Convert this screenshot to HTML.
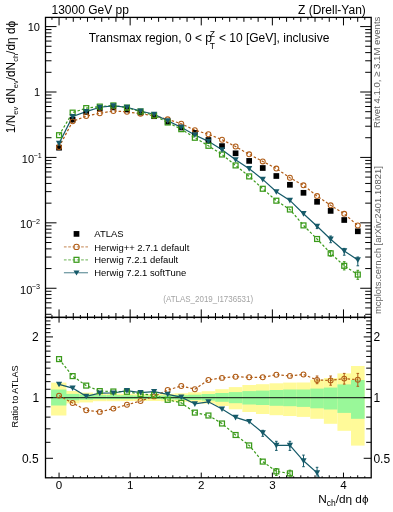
<!DOCTYPE html><html><head><meta charset="utf-8"><style>html,body{margin:0;padding:0;background:#fff;}svg{display:block;will-change:transform}</style></head><body><svg width="393" height="512" viewBox="0 0 393 512">
<rect width="393" height="512" fill="#fff"/>
<rect x="51.10" y="382.60" width="15.30" height="32.90" fill="#fffa99"/>
<rect x="65.84" y="391.00" width="13.58" height="12.40" fill="#fffa99"/>
<rect x="79.42" y="392.60" width="13.58" height="9.80" fill="#fffa99"/>
<rect x="93.00" y="393.60" width="13.58" height="7.60" fill="#fffa99"/>
<rect x="106.58" y="393.60" width="13.58" height="7.60" fill="#fffa99"/>
<rect x="120.16" y="393.80" width="13.58" height="7.30" fill="#fffa99"/>
<rect x="133.74" y="394.10" width="13.58" height="6.90" fill="#fffa99"/>
<rect x="147.32" y="394.10" width="13.58" height="6.90" fill="#fffa99"/>
<rect x="160.90" y="393.80" width="13.58" height="7.50" fill="#fffa99"/>
<rect x="174.48" y="393.30" width="13.58" height="8.40" fill="#fffa99"/>
<rect x="188.06" y="392.30" width="13.58" height="10.20" fill="#fffa99"/>
<rect x="201.64" y="391.20" width="13.58" height="12.40" fill="#fffa99"/>
<rect x="215.22" y="389.20" width="13.58" height="16.80" fill="#fffa99"/>
<rect x="228.80" y="387.10" width="13.58" height="22.20" fill="#fffa99"/>
<rect x="242.38" y="385.00" width="13.58" height="27.00" fill="#fffa99"/>
<rect x="255.96" y="384.20" width="13.58" height="29.80" fill="#fffa99"/>
<rect x="269.54" y="383.30" width="13.58" height="31.90" fill="#fffa99"/>
<rect x="283.12" y="382.60" width="13.58" height="33.40" fill="#fffa99"/>
<rect x="296.70" y="382.50" width="13.58" height="34.40" fill="#fffa99"/>
<rect x="310.28" y="379.60" width="13.58" height="39.20" fill="#fffa99"/>
<rect x="323.86" y="378.00" width="13.58" height="45.80" fill="#fffa99"/>
<rect x="337.44" y="373.40" width="13.58" height="57.40" fill="#fffa99"/>
<rect x="351.02" y="366.00" width="13.58" height="79.60" fill="#fffa99"/>
<rect x="51.10" y="389.50" width="15.30" height="16.00" fill="#99f899"/>
<rect x="65.84" y="393.90" width="13.58" height="6.40" fill="#99f899"/>
<rect x="79.42" y="394.60" width="13.58" height="5.10" fill="#99f899"/>
<rect x="93.00" y="395.10" width="13.58" height="4.10" fill="#99f899"/>
<rect x="106.58" y="395.10" width="13.58" height="4.10" fill="#99f899"/>
<rect x="120.16" y="395.30" width="13.58" height="3.80" fill="#99f899"/>
<rect x="133.74" y="395.60" width="13.58" height="3.40" fill="#99f899"/>
<rect x="147.32" y="395.60" width="13.58" height="3.40" fill="#99f899"/>
<rect x="160.90" y="395.50" width="13.58" height="3.80" fill="#99f899"/>
<rect x="174.48" y="395.20" width="13.58" height="4.40" fill="#99f899"/>
<rect x="188.06" y="394.70" width="13.58" height="5.30" fill="#99f899"/>
<rect x="201.64" y="394.00" width="13.58" height="6.60" fill="#99f899"/>
<rect x="215.22" y="393.00" width="13.58" height="8.80" fill="#99f899"/>
<rect x="228.80" y="392.10" width="13.58" height="11.10" fill="#99f899"/>
<rect x="242.38" y="391.10" width="13.58" height="13.40" fill="#99f899"/>
<rect x="255.96" y="390.60" width="13.58" height="14.40" fill="#99f899"/>
<rect x="269.54" y="390.00" width="13.58" height="15.80" fill="#99f899"/>
<rect x="283.12" y="389.50" width="13.58" height="16.70" fill="#99f899"/>
<rect x="296.70" y="389.50" width="13.58" height="17.40" fill="#99f899"/>
<rect x="310.28" y="388.60" width="13.58" height="19.70" fill="#99f899"/>
<rect x="323.86" y="387.60" width="13.58" height="21.90" fill="#99f899"/>
<rect x="337.44" y="384.40" width="13.58" height="28.50" fill="#99f899"/>
<rect x="351.02" y="380.00" width="13.58" height="38.80" fill="#99f899"/>
<line x1="45.5" y1="397.6" x2="371.2" y2="397.6" stroke="#2a3a2a" stroke-width="1.2"/>
<defs><clipPath id="cm"><rect x="45.5" y="17.4" width="325.7" height="300.0"/></clipPath><clipPath id="cr"><rect x="45.5" y="317.4" width="325.7" height="160.40000000000003"/></clipPath></defs>
<polyline points="59.05,395.60 72.63,403.00 86.21,410.20 99.79,411.90 113.37,408.60 126.95,404.80 140.53,401.00 154.11,396.40 167.69,390.00 181.27,386.00 194.85,389.20 208.43,380.00 222.01,377.90 235.59,376.70 249.17,377.30 262.75,377.30 276.33,374.70 289.91,375.90 303.49,374.50 317.07,380.00 330.65,380.40 344.23,378.60 357.81,379.70" fill="none" stroke="#b05c16" stroke-width="1.2" stroke-dasharray="2.5,2" clip-path="url(#cr)"/>
<polyline points="59.05,359.10 72.63,376.10 86.21,385.60 99.79,391.10 113.37,391.50 126.95,391.80 140.53,394.10 154.11,395.10 167.69,399.80 181.27,402.80 194.85,412.60 208.43,415.50 222.01,423.50 235.59,435.00 249.17,445.40 262.75,461.60 276.33,471.40 289.91,473.40 303.49,503.01" fill="none" stroke="#3a9a1a" stroke-width="1.2" stroke-dasharray="2.5,2" clip-path="url(#cr)"/>
<polyline points="59.05,384.30 72.63,388.10 86.21,396.30 99.79,393.20 113.37,393.00 126.95,390.70 140.53,392.60 154.11,391.60 167.69,394.30 181.27,397.10 194.85,403.90 208.43,401.80 222.01,409.00 235.59,417.40 249.17,421.60 262.75,432.80 276.33,445.40 289.91,445.40 303.49,460.80 317.07,472.80 330.65,503.01" fill="none" stroke="#165a69" stroke-width="1.2" clip-path="url(#cr)"/>
<path d="M317.07,376.00V383.70M315.77,376.00H318.37M315.77,383.70H318.37" stroke="#b05c16" stroke-width="1" fill="none" clip-path="url(#cr)"/>
<path d="M330.65,376.00V385.20M329.35,376.00H331.95M329.35,385.20H331.95" stroke="#b05c16" stroke-width="1" fill="none" clip-path="url(#cr)"/>
<path d="M344.23,373.40V384.10M342.93,373.40H345.53M342.93,384.10H345.53" stroke="#b05c16" stroke-width="1" fill="none" clip-path="url(#cr)"/>
<path d="M357.81,373.40V386.30M356.51,373.40H359.11M356.51,386.30H359.11" stroke="#b05c16" stroke-width="1" fill="none" clip-path="url(#cr)"/>
<path d="M262.75,430.30V436.30M261.45,430.30H264.05M261.45,436.30H264.05" stroke="#165a69" stroke-width="1" fill="none" clip-path="url(#cr)"/>
<path d="M276.33,441.30V450.40M275.03,441.30H277.63M275.03,450.40H277.63" stroke="#165a69" stroke-width="1" fill="none" clip-path="url(#cr)"/>
<path d="M289.91,441.30V450.40M288.61,441.30H291.21M288.61,450.40H291.21" stroke="#165a69" stroke-width="1" fill="none" clip-path="url(#cr)"/>
<path d="M303.49,455.10V466.70M302.19,455.10H304.79M302.19,466.70H304.79" stroke="#165a69" stroke-width="1" fill="none" clip-path="url(#cr)"/>
<path d="M317.07,467.30V480.00M315.77,467.30H318.37M315.77,480.00H318.37" stroke="#165a69" stroke-width="1" fill="none" clip-path="url(#cr)"/>
<path d="M276.33,468.50V475.50M275.03,468.50H277.63M275.03,475.50H277.63" stroke="#3a9a1a" stroke-width="1" fill="none" clip-path="url(#cr)"/>
<path d="M289.91,470.20V480.00M288.61,470.20H291.21M288.61,480.00H291.21" stroke="#3a9a1a" stroke-width="1" fill="none" clip-path="url(#cr)"/>
<circle cx="59.05" cy="395.60" r="2.45" fill="none" stroke="#b05c16" stroke-width="1.05" clip-path="url(#cr)"/>
<circle cx="72.63" cy="403.00" r="2.45" fill="none" stroke="#b05c16" stroke-width="1.05" clip-path="url(#cr)"/>
<circle cx="86.21" cy="410.20" r="2.45" fill="none" stroke="#b05c16" stroke-width="1.05" clip-path="url(#cr)"/>
<circle cx="99.79" cy="411.90" r="2.45" fill="none" stroke="#b05c16" stroke-width="1.05" clip-path="url(#cr)"/>
<circle cx="113.37" cy="408.60" r="2.45" fill="none" stroke="#b05c16" stroke-width="1.05" clip-path="url(#cr)"/>
<circle cx="126.95" cy="404.80" r="2.45" fill="none" stroke="#b05c16" stroke-width="1.05" clip-path="url(#cr)"/>
<circle cx="140.53" cy="401.00" r="2.45" fill="none" stroke="#b05c16" stroke-width="1.05" clip-path="url(#cr)"/>
<circle cx="154.11" cy="396.40" r="2.45" fill="none" stroke="#b05c16" stroke-width="1.05" clip-path="url(#cr)"/>
<circle cx="167.69" cy="390.00" r="2.45" fill="none" stroke="#b05c16" stroke-width="1.05" clip-path="url(#cr)"/>
<circle cx="181.27" cy="386.00" r="2.45" fill="none" stroke="#b05c16" stroke-width="1.05" clip-path="url(#cr)"/>
<circle cx="194.85" cy="389.20" r="2.45" fill="none" stroke="#b05c16" stroke-width="1.05" clip-path="url(#cr)"/>
<circle cx="208.43" cy="380.00" r="2.45" fill="none" stroke="#b05c16" stroke-width="1.05" clip-path="url(#cr)"/>
<circle cx="222.01" cy="377.90" r="2.45" fill="none" stroke="#b05c16" stroke-width="1.05" clip-path="url(#cr)"/>
<circle cx="235.59" cy="376.70" r="2.45" fill="none" stroke="#b05c16" stroke-width="1.05" clip-path="url(#cr)"/>
<circle cx="249.17" cy="377.30" r="2.45" fill="none" stroke="#b05c16" stroke-width="1.05" clip-path="url(#cr)"/>
<circle cx="262.75" cy="377.30" r="2.45" fill="none" stroke="#b05c16" stroke-width="1.05" clip-path="url(#cr)"/>
<circle cx="276.33" cy="374.70" r="2.45" fill="none" stroke="#b05c16" stroke-width="1.05" clip-path="url(#cr)"/>
<circle cx="289.91" cy="375.90" r="2.45" fill="none" stroke="#b05c16" stroke-width="1.05" clip-path="url(#cr)"/>
<circle cx="303.49" cy="374.50" r="2.45" fill="none" stroke="#b05c16" stroke-width="1.05" clip-path="url(#cr)"/>
<circle cx="317.07" cy="380.00" r="2.45" fill="none" stroke="#b05c16" stroke-width="1.05" clip-path="url(#cr)"/>
<circle cx="330.65" cy="380.40" r="2.45" fill="none" stroke="#b05c16" stroke-width="1.05" clip-path="url(#cr)"/>
<circle cx="344.23" cy="378.60" r="2.45" fill="none" stroke="#b05c16" stroke-width="1.05" clip-path="url(#cr)"/>
<circle cx="357.81" cy="379.70" r="2.45" fill="none" stroke="#b05c16" stroke-width="1.05" clip-path="url(#cr)"/>
<rect x="56.60" y="356.65" width="4.9" height="4.9" fill="none" stroke="#3a9a1a" stroke-width="1.25" clip-path="url(#cr)"/>
<rect x="70.18" y="373.65" width="4.9" height="4.9" fill="none" stroke="#3a9a1a" stroke-width="1.25" clip-path="url(#cr)"/>
<rect x="83.76" y="383.15" width="4.9" height="4.9" fill="none" stroke="#3a9a1a" stroke-width="1.25" clip-path="url(#cr)"/>
<rect x="97.34" y="388.65" width="4.9" height="4.9" fill="none" stroke="#3a9a1a" stroke-width="1.25" clip-path="url(#cr)"/>
<rect x="110.92" y="389.05" width="4.9" height="4.9" fill="none" stroke="#3a9a1a" stroke-width="1.25" clip-path="url(#cr)"/>
<rect x="124.50" y="389.35" width="4.9" height="4.9" fill="none" stroke="#3a9a1a" stroke-width="1.25" clip-path="url(#cr)"/>
<rect x="138.08" y="391.65" width="4.9" height="4.9" fill="none" stroke="#3a9a1a" stroke-width="1.25" clip-path="url(#cr)"/>
<rect x="151.66" y="392.65" width="4.9" height="4.9" fill="none" stroke="#3a9a1a" stroke-width="1.25" clip-path="url(#cr)"/>
<rect x="165.24" y="397.35" width="4.9" height="4.9" fill="none" stroke="#3a9a1a" stroke-width="1.25" clip-path="url(#cr)"/>
<rect x="178.82" y="400.35" width="4.9" height="4.9" fill="none" stroke="#3a9a1a" stroke-width="1.25" clip-path="url(#cr)"/>
<rect x="192.40" y="410.15" width="4.9" height="4.9" fill="none" stroke="#3a9a1a" stroke-width="1.25" clip-path="url(#cr)"/>
<rect x="205.98" y="413.05" width="4.9" height="4.9" fill="none" stroke="#3a9a1a" stroke-width="1.25" clip-path="url(#cr)"/>
<rect x="219.56" y="421.05" width="4.9" height="4.9" fill="none" stroke="#3a9a1a" stroke-width="1.25" clip-path="url(#cr)"/>
<rect x="233.14" y="432.55" width="4.9" height="4.9" fill="none" stroke="#3a9a1a" stroke-width="1.25" clip-path="url(#cr)"/>
<rect x="246.72" y="442.95" width="4.9" height="4.9" fill="none" stroke="#3a9a1a" stroke-width="1.25" clip-path="url(#cr)"/>
<rect x="260.30" y="459.15" width="4.9" height="4.9" fill="none" stroke="#3a9a1a" stroke-width="1.25" clip-path="url(#cr)"/>
<rect x="273.88" y="468.95" width="4.9" height="4.9" fill="none" stroke="#3a9a1a" stroke-width="1.25" clip-path="url(#cr)"/>
<rect x="287.46" y="470.95" width="4.9" height="4.9" fill="none" stroke="#3a9a1a" stroke-width="1.25" clip-path="url(#cr)"/>
<path d="M55.95,381.70 L62.15,381.70 L59.05,387.30 Z" fill="#165a69" clip-path="url(#cr)"/>
<path d="M69.53,385.50 L75.73,385.50 L72.63,391.10 Z" fill="#165a69" clip-path="url(#cr)"/>
<path d="M83.11,393.70 L89.31,393.70 L86.21,399.30 Z" fill="#165a69" clip-path="url(#cr)"/>
<path d="M96.69,390.60 L102.89,390.60 L99.79,396.20 Z" fill="#165a69" clip-path="url(#cr)"/>
<path d="M110.27,390.40 L116.47,390.40 L113.37,396.00 Z" fill="#165a69" clip-path="url(#cr)"/>
<path d="M123.85,388.10 L130.05,388.10 L126.95,393.70 Z" fill="#165a69" clip-path="url(#cr)"/>
<path d="M137.43,390.00 L143.63,390.00 L140.53,395.60 Z" fill="#165a69" clip-path="url(#cr)"/>
<path d="M151.01,389.00 L157.21,389.00 L154.11,394.60 Z" fill="#165a69" clip-path="url(#cr)"/>
<path d="M164.59,391.70 L170.79,391.70 L167.69,397.30 Z" fill="#165a69" clip-path="url(#cr)"/>
<path d="M178.17,394.50 L184.37,394.50 L181.27,400.10 Z" fill="#165a69" clip-path="url(#cr)"/>
<path d="M191.75,401.30 L197.95,401.30 L194.85,406.90 Z" fill="#165a69" clip-path="url(#cr)"/>
<path d="M205.33,399.20 L211.53,399.20 L208.43,404.80 Z" fill="#165a69" clip-path="url(#cr)"/>
<path d="M218.91,406.40 L225.11,406.40 L222.01,412.00 Z" fill="#165a69" clip-path="url(#cr)"/>
<path d="M232.49,414.80 L238.69,414.80 L235.59,420.40 Z" fill="#165a69" clip-path="url(#cr)"/>
<path d="M246.07,419.00 L252.27,419.00 L249.17,424.60 Z" fill="#165a69" clip-path="url(#cr)"/>
<path d="M259.65,430.20 L265.85,430.20 L262.75,435.80 Z" fill="#165a69" clip-path="url(#cr)"/>
<path d="M273.23,442.80 L279.43,442.80 L276.33,448.40 Z" fill="#165a69" clip-path="url(#cr)"/>
<path d="M286.81,442.80 L293.01,442.80 L289.91,448.40 Z" fill="#165a69" clip-path="url(#cr)"/>
<path d="M300.39,458.20 L306.59,458.20 L303.49,463.80 Z" fill="#165a69" clip-path="url(#cr)"/>
<path d="M313.97,470.20 L320.17,470.20 L317.07,475.80 Z" fill="#165a69" clip-path="url(#cr)"/>
<polyline points="59.05,147.05 72.63,121.35 86.21,116.09 99.79,113.34 113.37,110.97 126.95,111.84 140.53,113.70 154.11,115.81 167.69,119.33 181.27,123.74 194.85,130.17 208.43,134.29 222.01,139.71 235.59,146.52 249.17,154.31 262.75,161.41 276.33,168.57 289.91,177.76 303.49,185.30 317.07,196.09 330.65,205.32 344.23,213.83 357.81,225.49" fill="none" stroke="#b05c16" stroke-width="1.2" stroke-dasharray="2.5,2" clip-path="url(#cm)"/>
<polyline points="59.05,135.21 72.63,112.62 86.21,108.11 99.79,106.59 113.37,105.42 126.95,107.62 140.53,111.46 154.11,115.39 167.69,122.51 181.27,129.19 194.85,137.77 208.43,145.81 222.01,154.50 235.59,165.44 249.17,176.41 262.75,188.77 276.33,200.70 289.91,209.50 303.49,225.40 317.07,239.00 330.65,253.30 344.23,265.80 357.81,274.60" fill="none" stroke="#3a9a1a" stroke-width="1.2" stroke-dasharray="2.5,2" clip-path="url(#cm)"/>
<polyline points="59.05,143.38 72.63,116.52 86.21,111.58 99.79,107.27 113.37,105.91 126.95,107.26 140.53,110.98 154.11,114.25 167.69,120.73 181.27,127.34 194.85,134.94 208.43,141.36 222.01,149.80 235.59,159.73 249.17,168.69 262.75,179.42 276.33,191.80 289.91,200.40 303.49,213.70 317.07,226.30 330.65,239.20 344.23,250.90 357.81,259.90" fill="none" stroke="#165a69" stroke-width="1.2" clip-path="url(#cm)"/>
<path d="M317.07,224.50V228.60M315.77,224.50H318.37M315.77,228.60H318.37" stroke="#165a69" stroke-width="1" fill="none"/>
<path d="M330.65,236.00V242.70M329.35,236.00H331.95M329.35,242.70H331.95" stroke="#165a69" stroke-width="1" fill="none"/>
<path d="M344.23,248.40V255.20M342.93,248.40H345.53M342.93,255.20H345.53" stroke="#165a69" stroke-width="1" fill="none"/>
<path d="M357.81,257.00V265.80M356.51,257.00H359.11M356.51,265.80H359.11" stroke="#165a69" stroke-width="1" fill="none"/>
<path d="M330.65,250.60V256.20M329.35,250.60H331.95M329.35,256.20H331.95" stroke="#3a9a1a" stroke-width="1" fill="none"/>
<path d="M344.23,261.70V269.90M342.93,261.70H345.53M342.93,269.90H345.53" stroke="#3a9a1a" stroke-width="1" fill="none"/>
<path d="M357.81,270.30V279.30M356.51,270.30H359.11M356.51,279.30H359.11" stroke="#3a9a1a" stroke-width="1" fill="none"/>
<rect x="56.20" y="144.85" width="5.7" height="5.7" fill="#000"/>
<rect x="69.78" y="116.75" width="5.7" height="5.7" fill="#000"/>
<rect x="83.36" y="109.15" width="5.7" height="5.7" fill="#000"/>
<rect x="96.94" y="105.85" width="5.7" height="5.7" fill="#000"/>
<rect x="110.52" y="104.55" width="5.7" height="5.7" fill="#000"/>
<rect x="124.10" y="106.65" width="5.7" height="5.7" fill="#000"/>
<rect x="137.68" y="109.75" width="5.7" height="5.7" fill="#000"/>
<rect x="151.26" y="113.35" width="5.7" height="5.7" fill="#000"/>
<rect x="164.84" y="118.95" width="5.7" height="5.7" fill="#000"/>
<rect x="178.42" y="124.65" width="5.7" height="5.7" fill="#000"/>
<rect x="192.00" y="130.05" width="5.7" height="5.7" fill="#000"/>
<rect x="205.58" y="137.15" width="5.7" height="5.7" fill="#000"/>
<rect x="219.16" y="143.25" width="5.7" height="5.7" fill="#000"/>
<rect x="232.74" y="150.45" width="5.7" height="5.7" fill="#000"/>
<rect x="246.32" y="158.05" width="5.7" height="5.7" fill="#000"/>
<rect x="259.90" y="165.15" width="5.7" height="5.7" fill="#000"/>
<rect x="273.48" y="173.15" width="5.7" height="5.7" fill="#000"/>
<rect x="287.06" y="181.95" width="5.7" height="5.7" fill="#000"/>
<rect x="300.64" y="189.95" width="5.7" height="5.7" fill="#000"/>
<rect x="314.22" y="198.95" width="5.7" height="5.7" fill="#000"/>
<rect x="327.80" y="208.05" width="5.7" height="5.7" fill="#000"/>
<rect x="341.38" y="217.15" width="5.7" height="5.7" fill="#000"/>
<rect x="354.96" y="228.45" width="5.7" height="5.7" fill="#000"/>
<circle cx="59.05" cy="147.05" r="2.45" fill="none" stroke="#b05c16" stroke-width="1.05"/>
<circle cx="72.63" cy="121.35" r="2.45" fill="none" stroke="#b05c16" stroke-width="1.05"/>
<circle cx="86.21" cy="116.09" r="2.45" fill="none" stroke="#b05c16" stroke-width="1.05"/>
<circle cx="99.79" cy="113.34" r="2.45" fill="none" stroke="#b05c16" stroke-width="1.05"/>
<circle cx="113.37" cy="110.97" r="2.45" fill="none" stroke="#b05c16" stroke-width="1.05"/>
<circle cx="126.95" cy="111.84" r="2.45" fill="none" stroke="#b05c16" stroke-width="1.05"/>
<circle cx="140.53" cy="113.70" r="2.45" fill="none" stroke="#b05c16" stroke-width="1.05"/>
<circle cx="154.11" cy="115.81" r="2.45" fill="none" stroke="#b05c16" stroke-width="1.05"/>
<circle cx="167.69" cy="119.33" r="2.45" fill="none" stroke="#b05c16" stroke-width="1.05"/>
<circle cx="181.27" cy="123.74" r="2.45" fill="none" stroke="#b05c16" stroke-width="1.05"/>
<circle cx="194.85" cy="130.17" r="2.45" fill="none" stroke="#b05c16" stroke-width="1.05"/>
<circle cx="208.43" cy="134.29" r="2.45" fill="none" stroke="#b05c16" stroke-width="1.05"/>
<circle cx="222.01" cy="139.71" r="2.45" fill="none" stroke="#b05c16" stroke-width="1.05"/>
<circle cx="235.59" cy="146.52" r="2.45" fill="none" stroke="#b05c16" stroke-width="1.05"/>
<circle cx="249.17" cy="154.31" r="2.45" fill="none" stroke="#b05c16" stroke-width="1.05"/>
<circle cx="262.75" cy="161.41" r="2.45" fill="none" stroke="#b05c16" stroke-width="1.05"/>
<circle cx="276.33" cy="168.57" r="2.45" fill="none" stroke="#b05c16" stroke-width="1.05"/>
<circle cx="289.91" cy="177.76" r="2.45" fill="none" stroke="#b05c16" stroke-width="1.05"/>
<circle cx="303.49" cy="185.30" r="2.45" fill="none" stroke="#b05c16" stroke-width="1.05"/>
<circle cx="317.07" cy="196.09" r="2.45" fill="none" stroke="#b05c16" stroke-width="1.05"/>
<circle cx="330.65" cy="205.32" r="2.45" fill="none" stroke="#b05c16" stroke-width="1.05"/>
<circle cx="344.23" cy="213.83" r="2.45" fill="none" stroke="#b05c16" stroke-width="1.05"/>
<circle cx="357.81" cy="225.49" r="2.45" fill="none" stroke="#b05c16" stroke-width="1.05"/>
<rect x="56.60" y="132.76" width="4.9" height="4.9" fill="none" stroke="#3a9a1a" stroke-width="1.25"/>
<rect x="70.18" y="110.17" width="4.9" height="4.9" fill="none" stroke="#3a9a1a" stroke-width="1.25"/>
<rect x="83.76" y="105.66" width="4.9" height="4.9" fill="none" stroke="#3a9a1a" stroke-width="1.25"/>
<rect x="97.34" y="104.14" width="4.9" height="4.9" fill="none" stroke="#3a9a1a" stroke-width="1.25"/>
<rect x="110.92" y="102.97" width="4.9" height="4.9" fill="none" stroke="#3a9a1a" stroke-width="1.25"/>
<rect x="124.50" y="105.17" width="4.9" height="4.9" fill="none" stroke="#3a9a1a" stroke-width="1.25"/>
<rect x="138.08" y="109.01" width="4.9" height="4.9" fill="none" stroke="#3a9a1a" stroke-width="1.25"/>
<rect x="151.66" y="112.94" width="4.9" height="4.9" fill="none" stroke="#3a9a1a" stroke-width="1.25"/>
<rect x="165.24" y="120.06" width="4.9" height="4.9" fill="none" stroke="#3a9a1a" stroke-width="1.25"/>
<rect x="178.82" y="126.74" width="4.9" height="4.9" fill="none" stroke="#3a9a1a" stroke-width="1.25"/>
<rect x="192.40" y="135.32" width="4.9" height="4.9" fill="none" stroke="#3a9a1a" stroke-width="1.25"/>
<rect x="205.98" y="143.36" width="4.9" height="4.9" fill="none" stroke="#3a9a1a" stroke-width="1.25"/>
<rect x="219.56" y="152.05" width="4.9" height="4.9" fill="none" stroke="#3a9a1a" stroke-width="1.25"/>
<rect x="233.14" y="162.99" width="4.9" height="4.9" fill="none" stroke="#3a9a1a" stroke-width="1.25"/>
<rect x="246.72" y="173.96" width="4.9" height="4.9" fill="none" stroke="#3a9a1a" stroke-width="1.25"/>
<rect x="260.30" y="186.32" width="4.9" height="4.9" fill="none" stroke="#3a9a1a" stroke-width="1.25"/>
<rect x="273.88" y="198.25" width="4.9" height="4.9" fill="none" stroke="#3a9a1a" stroke-width="1.25"/>
<rect x="287.46" y="207.05" width="4.9" height="4.9" fill="none" stroke="#3a9a1a" stroke-width="1.25"/>
<rect x="301.04" y="222.95" width="4.9" height="4.9" fill="none" stroke="#3a9a1a" stroke-width="1.25"/>
<rect x="314.62" y="236.55" width="4.9" height="4.9" fill="none" stroke="#3a9a1a" stroke-width="1.25"/>
<rect x="328.20" y="250.85" width="4.9" height="4.9" fill="none" stroke="#3a9a1a" stroke-width="1.25"/>
<rect x="341.78" y="263.35" width="4.9" height="4.9" fill="none" stroke="#3a9a1a" stroke-width="1.25"/>
<rect x="355.36" y="272.15" width="4.9" height="4.9" fill="none" stroke="#3a9a1a" stroke-width="1.25"/>
<path d="M55.95,140.78 L62.15,140.78 L59.05,146.38 Z" fill="#165a69"/>
<path d="M69.53,113.92 L75.73,113.92 L72.63,119.52 Z" fill="#165a69"/>
<path d="M83.11,108.98 L89.31,108.98 L86.21,114.58 Z" fill="#165a69"/>
<path d="M96.69,104.67 L102.89,104.67 L99.79,110.27 Z" fill="#165a69"/>
<path d="M110.27,103.31 L116.47,103.31 L113.37,108.91 Z" fill="#165a69"/>
<path d="M123.85,104.66 L130.05,104.66 L126.95,110.26 Z" fill="#165a69"/>
<path d="M137.43,108.38 L143.63,108.38 L140.53,113.98 Z" fill="#165a69"/>
<path d="M151.01,111.65 L157.21,111.65 L154.11,117.25 Z" fill="#165a69"/>
<path d="M164.59,118.13 L170.79,118.13 L167.69,123.73 Z" fill="#165a69"/>
<path d="M178.17,124.74 L184.37,124.74 L181.27,130.34 Z" fill="#165a69"/>
<path d="M191.75,132.34 L197.95,132.34 L194.85,137.94 Z" fill="#165a69"/>
<path d="M205.33,138.76 L211.53,138.76 L208.43,144.36 Z" fill="#165a69"/>
<path d="M218.91,147.20 L225.11,147.20 L222.01,152.80 Z" fill="#165a69"/>
<path d="M232.49,157.13 L238.69,157.13 L235.59,162.73 Z" fill="#165a69"/>
<path d="M246.07,166.09 L252.27,166.09 L249.17,171.69 Z" fill="#165a69"/>
<path d="M259.65,176.82 L265.85,176.82 L262.75,182.42 Z" fill="#165a69"/>
<path d="M273.23,189.20 L279.43,189.20 L276.33,194.80 Z" fill="#165a69"/>
<path d="M286.81,197.80 L293.01,197.80 L289.91,203.40 Z" fill="#165a69"/>
<path d="M300.39,211.10 L306.59,211.10 L303.49,216.70 Z" fill="#165a69"/>
<path d="M313.97,223.70 L320.17,223.70 L317.07,229.30 Z" fill="#165a69"/>
<path d="M327.55,236.60 L333.75,236.60 L330.65,242.20 Z" fill="#165a69"/>
<path d="M341.13,248.30 L347.33,248.30 L344.23,253.90 Z" fill="#165a69"/>
<path d="M354.71,257.30 L360.91,257.30 L357.81,262.90 Z" fill="#165a69"/>
<rect x="45.5" y="17.4" width="325.70" height="300.00" fill="none" stroke="#000" stroke-width="1.3"/>
<rect x="45.5" y="317.4" width="325.70" height="160.40" fill="none" stroke="#000" stroke-width="1.3"/>
<path d="M51.94,17.40L51.94,19.80M51.94,317.40L51.94,315.00M51.94,317.40L51.94,318.90M51.94,477.80L51.94,476.30M59.05,17.40L59.05,25.40M59.05,317.40L59.05,309.40M59.05,317.40L59.05,322.60M59.05,477.80L59.05,472.60M66.16,17.40L66.16,19.80M66.16,317.40L66.16,315.00M66.16,317.40L66.16,318.90M66.16,477.80L66.16,476.30M73.27,17.40L73.27,21.80M73.27,317.40L73.27,313.00M73.27,317.40L73.27,319.90M73.27,477.80L73.27,475.30M80.38,17.40L80.38,19.80M80.38,317.40L80.38,315.00M80.38,317.40L80.38,318.90M80.38,477.80L80.38,476.30M87.49,17.40L87.49,21.80M87.49,317.40L87.49,313.00M87.49,317.40L87.49,319.90M87.49,477.80L87.49,475.30M94.60,17.40L94.60,19.80M94.60,317.40L94.60,315.00M94.60,317.40L94.60,318.90M94.60,477.80L94.60,476.30M101.71,17.40L101.71,21.80M101.71,317.40L101.71,313.00M101.71,317.40L101.71,319.90M101.71,477.80L101.71,475.30M108.82,17.40L108.82,19.80M108.82,317.40L108.82,315.00M108.82,317.40L108.82,318.90M108.82,477.80L108.82,476.30M115.93,17.40L115.93,21.80M115.93,317.40L115.93,313.00M115.93,317.40L115.93,319.90M115.93,477.80L115.93,475.30M123.04,17.40L123.04,19.80M123.04,317.40L123.04,315.00M123.04,317.40L123.04,318.90M123.04,477.80L123.04,476.30M130.15,17.40L130.15,25.40M130.15,317.40L130.15,309.40M130.15,317.40L130.15,322.60M130.15,477.80L130.15,472.60M137.27,17.40L137.27,19.80M137.27,317.40L137.27,315.00M137.27,317.40L137.27,318.90M137.27,477.80L137.27,476.30M144.38,17.40L144.38,21.80M144.38,317.40L144.38,313.00M144.38,317.40L144.38,319.90M144.38,477.80L144.38,475.30M151.49,17.40L151.49,19.80M151.49,317.40L151.49,315.00M151.49,317.40L151.49,318.90M151.49,477.80L151.49,476.30M158.60,17.40L158.60,21.80M158.60,317.40L158.60,313.00M158.60,317.40L158.60,319.90M158.60,477.80L158.60,475.30M165.71,17.40L165.71,19.80M165.71,317.40L165.71,315.00M165.71,317.40L165.71,318.90M165.71,477.80L165.71,476.30M172.82,17.40L172.82,21.80M172.82,317.40L172.82,313.00M172.82,317.40L172.82,319.90M172.82,477.80L172.82,475.30M179.93,17.40L179.93,19.80M179.93,317.40L179.93,315.00M179.93,317.40L179.93,318.90M179.93,477.80L179.93,476.30M187.04,17.40L187.04,21.80M187.04,317.40L187.04,313.00M187.04,317.40L187.04,319.90M187.04,477.80L187.04,475.30M194.15,17.40L194.15,19.80M194.15,317.40L194.15,315.00M194.15,317.40L194.15,318.90M194.15,477.80L194.15,476.30M201.26,17.40L201.26,25.40M201.26,317.40L201.26,309.40M201.26,317.40L201.26,322.60M201.26,477.80L201.26,472.60M208.37,17.40L208.37,19.80M208.37,317.40L208.37,315.00M208.37,317.40L208.37,318.90M208.37,477.80L208.37,476.30M215.48,17.40L215.48,21.80M215.48,317.40L215.48,313.00M215.48,317.40L215.48,319.90M215.48,477.80L215.48,475.30M222.59,17.40L222.59,19.80M222.59,317.40L222.59,315.00M222.59,317.40L222.59,318.90M222.59,477.80L222.59,476.30M229.70,17.40L229.70,21.80M229.70,317.40L229.70,313.00M229.70,317.40L229.70,319.90M229.70,477.80L229.70,475.30M236.81,17.40L236.81,19.80M236.81,317.40L236.81,315.00M236.81,317.40L236.81,318.90M236.81,477.80L236.81,476.30M243.92,17.40L243.92,21.80M243.92,317.40L243.92,313.00M243.92,317.40L243.92,319.90M243.92,477.80L243.92,475.30M251.03,17.40L251.03,19.80M251.03,317.40L251.03,315.00M251.03,317.40L251.03,318.90M251.03,477.80L251.03,476.30M258.14,17.40L258.14,21.80M258.14,317.40L258.14,313.00M258.14,317.40L258.14,319.90M258.14,477.80L258.14,475.30M265.25,17.40L265.25,19.80M265.25,317.40L265.25,315.00M265.25,317.40L265.25,318.90M265.25,477.80L265.25,476.30M272.36,17.40L272.36,25.40M272.36,317.40L272.36,309.40M272.36,317.40L272.36,322.60M272.36,477.80L272.36,472.60M279.47,17.40L279.47,19.80M279.47,317.40L279.47,315.00M279.47,317.40L279.47,318.90M279.47,477.80L279.47,476.30M286.59,17.40L286.59,21.80M286.59,317.40L286.59,313.00M286.59,317.40L286.59,319.90M286.59,477.80L286.59,475.30M293.70,17.40L293.70,19.80M293.70,317.40L293.70,315.00M293.70,317.40L293.70,318.90M293.70,477.80L293.70,476.30M300.81,17.40L300.81,21.80M300.81,317.40L300.81,313.00M300.81,317.40L300.81,319.90M300.81,477.80L300.81,475.30M307.92,17.40L307.92,19.80M307.92,317.40L307.92,315.00M307.92,317.40L307.92,318.90M307.92,477.80L307.92,476.30M315.03,17.40L315.03,21.80M315.03,317.40L315.03,313.00M315.03,317.40L315.03,319.90M315.03,477.80L315.03,475.30M322.14,17.40L322.14,19.80M322.14,317.40L322.14,315.00M322.14,317.40L322.14,318.90M322.14,477.80L322.14,476.30M329.25,17.40L329.25,21.80M329.25,317.40L329.25,313.00M329.25,317.40L329.25,319.90M329.25,477.80L329.25,475.30M336.36,17.40L336.36,19.80M336.36,317.40L336.36,315.00M336.36,317.40L336.36,318.90M336.36,477.80L336.36,476.30M343.47,17.40L343.47,25.40M343.47,317.40L343.47,309.40M343.47,317.40L343.47,322.60M343.47,477.80L343.47,472.60M350.58,17.40L350.58,19.80M350.58,317.40L350.58,315.00M350.58,317.40L350.58,318.90M350.58,477.80L350.58,476.30M357.69,17.40L357.69,21.80M357.69,317.40L357.69,313.00M357.69,317.40L357.69,319.90M357.69,477.80L357.69,475.30M364.80,17.40L364.80,19.80M364.80,317.40L364.80,315.00M364.80,317.40L364.80,318.90M364.80,477.80L364.80,476.30M45.50,314.29L51.50,314.29M371.20,314.29L365.20,314.29M45.50,307.95L51.50,307.95M371.20,307.95L365.20,307.95M45.50,302.77L51.50,302.77M371.20,302.77L365.20,302.77M45.50,298.39L51.50,298.39M371.20,298.39L365.20,298.39M45.50,294.60L51.50,294.60M371.20,294.60L365.20,294.60M45.50,291.25L51.50,291.25M371.20,291.25L365.20,291.25M45.50,288.26L56.50,288.26M371.20,288.26L360.20,288.26M45.50,268.57L51.50,268.57M371.20,268.57L365.20,268.57M45.50,257.05L51.50,257.05M371.20,257.05L365.20,257.05M45.50,248.87L51.50,248.87M371.20,248.87L365.20,248.87M45.50,242.53L51.50,242.53M371.20,242.53L365.20,242.53M45.50,237.35L51.50,237.35M371.20,237.35L365.20,237.35M45.50,232.97L51.50,232.97M371.20,232.97L365.20,232.97M45.50,229.18L51.50,229.18M371.20,229.18L365.20,229.18M45.50,225.83L51.50,225.83M371.20,225.83L365.20,225.83M45.50,222.84L56.50,222.84M371.20,222.84L360.20,222.84M45.50,203.15L51.50,203.15M371.20,203.15L365.20,203.15M45.50,191.63L51.50,191.63M371.20,191.63L365.20,191.63M45.50,183.45L51.50,183.45M371.20,183.45L365.20,183.45M45.50,177.11L51.50,177.11M371.20,177.11L365.20,177.11M45.50,171.93L51.50,171.93M371.20,171.93L365.20,171.93M45.50,167.55L51.50,167.55M371.20,167.55L365.20,167.55M45.50,163.76L51.50,163.76M371.20,163.76L365.20,163.76M45.50,160.41L51.50,160.41M371.20,160.41L365.20,160.41M45.50,157.42L56.50,157.42M371.20,157.42L360.20,157.42M45.50,137.73L51.50,137.73M371.20,137.73L365.20,137.73M45.50,126.21L51.50,126.21M371.20,126.21L365.20,126.21M45.50,118.03L51.50,118.03M371.20,118.03L365.20,118.03M45.50,111.69L51.50,111.69M371.20,111.69L365.20,111.69M45.50,106.51L51.50,106.51M371.20,106.51L365.20,106.51M45.50,102.13L51.50,102.13M371.20,102.13L365.20,102.13M45.50,98.34L51.50,98.34M371.20,98.34L365.20,98.34M45.50,94.99L51.50,94.99M371.20,94.99L365.20,94.99M45.50,92.00L56.50,92.00M371.20,92.00L360.20,92.00M45.50,72.31L51.50,72.31M371.20,72.31L365.20,72.31M45.50,60.79L51.50,60.79M371.20,60.79L365.20,60.79M45.50,52.61L51.50,52.61M371.20,52.61L365.20,52.61M45.50,46.27L51.50,46.27M371.20,46.27L365.20,46.27M45.50,41.09L51.50,41.09M371.20,41.09L365.20,41.09M45.50,36.71L51.50,36.71M371.20,36.71L365.20,36.71M45.50,32.92L51.50,32.92M371.20,32.92L365.20,32.92M45.50,29.57L51.50,29.57M371.20,29.57L365.20,29.57M45.50,26.58L56.50,26.58M371.20,26.58L360.20,26.58M45.50,458.29L53.00,458.29M371.20,458.29L363.70,458.29M45.50,442.32L50.50,442.32M371.20,442.32L366.20,442.32M45.50,428.83L50.50,428.83M371.20,428.83L366.20,428.83M45.50,417.14L50.50,417.14M371.20,417.14L366.20,417.14M45.50,406.82L50.50,406.82M371.20,406.82L366.20,406.82M45.50,397.60L53.00,397.60M371.20,397.60L363.70,397.60M45.50,389.26L50.50,389.26M371.20,389.26L366.20,389.26M45.50,381.64L50.50,381.64M371.20,381.64L366.20,381.64M45.50,374.63L50.50,374.63M371.20,374.63L366.20,374.63M45.50,368.14L50.50,368.14M371.20,368.14L366.20,368.14M45.50,362.10L50.50,362.10M371.20,362.10L366.20,362.10M45.50,356.45L50.50,356.45M371.20,356.45L366.20,356.45M45.50,351.14L50.50,351.14M371.20,351.14L366.20,351.14M45.50,346.14L50.50,346.14M371.20,346.14L366.20,346.14M45.50,341.40L50.50,341.40M371.20,341.40L366.20,341.40M45.50,336.91L53.00,336.91M371.20,336.91L363.70,336.91M45.50,332.64L50.50,332.64M371.20,332.64L366.20,332.64M45.50,328.57L50.50,328.57M371.20,328.57L366.20,328.57M45.50,324.68L50.50,324.68M371.20,324.68L366.20,324.68M45.50,320.95L50.50,320.95M371.20,320.95L366.20,320.95" stroke="#000" stroke-width="1.0" fill="none"/>
<text x="51.5" y="14" font-size="12" text-anchor="start" fill="#000" font-family="Liberation Sans, sans-serif" >13000 GeV pp</text>
<text x="365.8" y="14" font-size="12" text-anchor="end" fill="#000" font-family="Liberation Sans, sans-serif" >Z (Drell-Yan)</text>
<text x="88.7" y="41.9" font-size="12" font-family="Liberation Sans, sans-serif">Transmax region, 0 &lt; p<tspan font-size="8.5" dx="-2.2" dy="-4.8">Z</tspan><tspan font-size="8.5" dx="-5.2" dy="11.8">T</tspan><tspan dx="0.6" dy="-7"> &lt; 10 [GeV], inclusive</tspan></text>
<text x="40" y="31" font-size="11" text-anchor="end" fill="#000" font-family="Liberation Sans, sans-serif" >10</text>
<text x="40" y="96" font-size="11" text-anchor="end" fill="#000" font-family="Liberation Sans, sans-serif" >1</text>
<text x="41.8" y="162.90" font-size="11" text-anchor="end" font-family="Liberation Sans, sans-serif">10<tspan font-size="7.2" dx="-0.5" dy="-4.8">−1</tspan></text>
<text x="40.0" y="228.40" font-size="11" text-anchor="end" font-family="Liberation Sans, sans-serif">10<tspan font-size="7.2" dx="-0.5" dy="-4.8">−2</tspan></text>
<text x="40.0" y="293.70" font-size="11" text-anchor="end" font-family="Liberation Sans, sans-serif">10<tspan font-size="7.2" dx="-0.5" dy="-4.8">−3</tspan></text>
<text x="38.8" y="341.21" font-size="12" text-anchor="end" fill="#000" font-family="Liberation Sans, sans-serif" >2</text>
<text x="39.2" y="401.90" font-size="12" text-anchor="end" fill="#000" font-family="Liberation Sans, sans-serif" >1</text>
<text x="38.6" y="462.59" font-size="12" text-anchor="end" fill="#000" font-family="Liberation Sans, sans-serif" >0.5</text>
<text x="373.4" y="341.21" font-size="12" text-anchor="start" fill="#000" font-family="Liberation Sans, sans-serif" >2</text>
<text x="373.4" y="402.20" font-size="12" text-anchor="start" fill="#000" font-family="Liberation Sans, sans-serif" >1</text>
<text x="373.4" y="462.59" font-size="12" text-anchor="start" fill="#000" font-family="Liberation Sans, sans-serif" >0.5</text>
<text x="59.05" y="489.2" font-size="11.6" text-anchor="middle" fill="#000" font-family="Liberation Sans, sans-serif" >0</text>
<text x="130.15" y="489.2" font-size="11.6" text-anchor="middle" fill="#000" font-family="Liberation Sans, sans-serif" >1</text>
<text x="201.26" y="489.2" font-size="11.6" text-anchor="middle" fill="#000" font-family="Liberation Sans, sans-serif" >2</text>
<text x="272.36" y="489.2" font-size="11.6" text-anchor="middle" fill="#000" font-family="Liberation Sans, sans-serif" >3</text>
<text x="343.47" y="489.2" font-size="11.6" text-anchor="middle" fill="#000" font-family="Liberation Sans, sans-serif" >4</text>
<text x="368.5" y="502.5" font-size="11.8" text-anchor="end" font-family="Liberation Sans, sans-serif">N<tspan font-size="8.5" dy="3">ch</tspan><tspan dy="-3">/dη dϕ</tspan></text>
<text transform="translate(14.7,133.2) rotate(-90)" font-size="11.9" font-family="Liberation Sans, sans-serif">1/N<tspan font-size="7.5" dy="3">ev</tspan><tspan dy="-3"> dN</tspan><tspan font-size="7.5" dy="3">ev</tspan><tspan dy="-3">/dN</tspan><tspan font-size="7.5" dy="3">ch</tspan><tspan dy="-3">/dη dϕ</tspan></text>
<text transform="translate(18.4,427.4) rotate(-90)" font-size="9.2" font-family="Liberation Sans, sans-serif">Ratio to ATLAS</text>
<text transform="translate(380.2,128) rotate(-90)" font-size="9.6" fill="#606060" font-family="Liberation Sans, sans-serif">Rivet 4.1.0, ≥ 3.1M events</text>
<text transform="translate(380.7,314.1) rotate(-90)" font-size="9.45" fill="#606060" font-family="Liberation Sans, sans-serif">mcplots.cern.ch [arXiv:2401.10821]</text>
<text x="163.3" y="302.3" font-size="8.6" text-anchor="start" fill="#a4a4a4" font-family="Liberation Sans, sans-serif" textLength="89.8" lengthAdjust="spacingAndGlyphs">(ATLAS_2019_I1736531)</text>
<rect x="73.65" y="231.05" width="5.7" height="5.7" fill="#000"/>
<text x="94.3" y="236.7" font-size="9.45" text-anchor="start" fill="#000" font-family="Liberation Sans, sans-serif" >ATLAS</text>
<line x1="63.9" y1="246.90" x2="88" y2="246.90" stroke="#b05c16" stroke-opacity="0.6" stroke-width="1.3" stroke-dasharray="2.7,1.6"/>
<circle cx="76.5" cy="246.90" r="2.7" fill="none" stroke="#b05c16" stroke-width="1.05"/>
<text x="94.3" y="250.50" font-size="9.45" text-anchor="start" fill="#000" font-family="Liberation Sans, sans-serif" >Herwig++ 2.7.1 default</text>
<line x1="63.9" y1="259.80" x2="88" y2="259.80" stroke="#3a9a1a" stroke-opacity="0.6" stroke-width="1.3" stroke-dasharray="2.7,1.6"/>
<rect x="74.05" y="257.35" width="4.9" height="4.9" fill="none" stroke="#3a9a1a" stroke-width="1.25"/>
<text x="94.3" y="263.40" font-size="9.45" text-anchor="start" fill="#000" font-family="Liberation Sans, sans-serif" >Herwig 7.2.1 default</text>
<line x1="63.9" y1="272.70" x2="88" y2="272.70" stroke="#165a69" stroke-opacity="0.6" stroke-width="1.3"/>
<path d="M73.5,270.40 L79.5,270.40 L76.5,275.60 Z" fill="#165a69"/>
<text x="94.3" y="276.30" font-size="9.45" text-anchor="start" fill="#000" font-family="Liberation Sans, sans-serif" >Herwig 7.2.1 softTune</text>
</svg></body></html>
